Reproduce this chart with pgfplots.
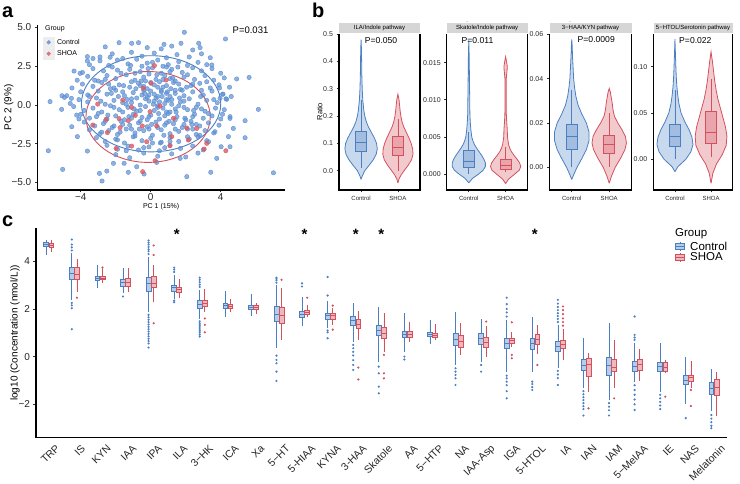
\documentclass[border=0pt]{standalone}
\usepackage{fontspec}
\setmainfont{Liberation Sans}
\usepackage{pgfplots}
\usepackage{pgfplotstable}
\pgfplotsset{compat=1.18}
\usepgfplotslibrary{statistics}
\definecolor{cb}{HTML}{4A7FC2}
\definecolor{cr}{HTML}{D4505C}
\definecolor{pb}{HTML}{5E90D2}
\definecolor{pr}{HTML}{DA5B66}
\newcommand{\fs}[1]{\fontsize{#1}{#1}\selectfont}

% violin outlines: offset from the group centre, value
\pgfplotstableread{
d y
0 -0.032
0.03 -0.02
0.10 0
0.22 0.02
0.33 0.04
0.41 0.06
0.44 0.08
0.42 0.10
0.36 0.12
0.28 0.14
0.20 0.16
0.14 0.18
0.10 0.20
0.075 0.22
0.06 0.24
0.045 0.26
0.03 0.30
0.02 0.35
0.015 0.40
0.008 0.45
0 0.48
-0.008 0.45
-0.015 0.40
-0.02 0.35
-0.03 0.30
-0.045 0.26
-0.06 0.24
-0.075 0.22
-0.10 0.20
-0.14 0.18
-0.20 0.16
-0.28 0.14
-0.36 0.12
-0.42 0.10
-0.44 0.08
-0.41 0.06
-0.33 0.04
-0.22 0.02
-0.10 0
-0.03 -0.02
0 -0.032
}\vAc
\pgfplotstableread{
d y
0 -0.045
0.03 -0.03
0.09 -0.015
0.17 0
0.28 0.02
0.37 0.04
0.41 0.06
0.40 0.08
0.36 0.10
0.30 0.12
0.23 0.14
0.16 0.16
0.11 0.18
0.08 0.20
0.06 0.22
0.045 0.24
0.03 0.26
0 0.28
-0.03 0.26
-0.045 0.24
-0.06 0.22
-0.08 0.20
-0.11 0.18
-0.16 0.16
-0.23 0.14
-0.30 0.12
-0.36 0.10
-0.40 0.08
-0.41 0.06
-0.37 0.04
-0.28 0.02
-0.17 0
-0.09 -0.015
-0.03 -0.03
0 -0.045
}\vAs
\pgfplotstableread{
d y
0 -0.0012
0.10 -0.0006
0.27 0
0.39 0.0005
0.45 0.001
0.45 0.0015
0.41 0.002
0.35 0.0025
0.28 0.003
0.21 0.0035
0.15 0.004
0.11 0.0045
0.08 0.005
0.055 0.006
0.04 0.007
0.03 0.008
0.025 0.010
0.02 0.012
0.015 0.014
0.01 0.016
0 0.018
-0.01 0.016
-0.015 0.014
-0.02 0.012
-0.025 0.010
-0.03 0.008
-0.04 0.007
-0.055 0.006
-0.08 0.005
-0.11 0.0045
-0.15 0.004
-0.21 0.0035
-0.28 0.003
-0.35 0.0025
-0.41 0.002
-0.45 0.0015
-0.45 0.001
-0.39 0.0005
-0.27 0
-0.10 -0.0006
0 -0.0012
}\vBc
\pgfplotstableread{
d y
0 -0.0013
0.08 -0.0007
0.25 0
0.37 0.0005
0.41 0.001
0.38 0.0015
0.31 0.002
0.23 0.0025
0.16 0.003
0.11 0.0035
0.08 0.004
0.05 0.005
0.045 0.006
0.03 0.007
0.02 0.008
0.015 0.010
0.015 0.012
0.02 0.013
0.04 0.014
0.045 0.0145
0.03 0.015
0 0.0158
-0.03 0.015
-0.045 0.0145
-0.04 0.014
-0.02 0.013
-0.015 0.012
-0.015 0.010
-0.02 0.008
-0.03 0.007
-0.045 0.006
-0.05 0.005
-0.08 0.004
-0.11 0.0035
-0.16 0.003
-0.23 0.0025
-0.31 0.002
-0.38 0.0015
-0.41 0.001
-0.37 0.0005
-0.25 0
-0.08 -0.0007
0 -0.0013
}\vBs
\pgfplotstableread{
d y
0 -0.0055
0.06 -0.003
0.14 0
0.27 0.004
0.39 0.008
0.46 0.012
0.46 0.016
0.39 0.020
0.27 0.024
0.17 0.028
0.11 0.032
0.075 0.036
0.05 0.040
0.035 0.045
0.02 0.050
0.01 0.055
0 0.0577
-0.01 0.055
-0.02 0.050
-0.035 0.045
-0.05 0.040
-0.075 0.036
-0.11 0.032
-0.17 0.028
-0.27 0.024
-0.39 0.020
-0.46 0.016
-0.46 0.012
-0.39 0.008
-0.27 0.004
-0.14 0
-0.06 -0.003
0 -0.0055
}\vCc
\pgfplotstableread{
d y
0 -0.0072
0.06 -0.004
0.16 0
0.30 0.004
0.42 0.008
0.46 0.011
0.43 0.014
0.34 0.017
0.23 0.020
0.14 0.023
0.10 0.026
0.08 0.029
0.05 0.032
0.03 0.034
0 0.0356
-0.03 0.034
-0.05 0.032
-0.08 0.029
-0.10 0.026
-0.14 0.023
-0.23 0.020
-0.34 0.017
-0.43 0.014
-0.46 0.011
-0.42 0.008
-0.30 0.004
-0.16 0
-0.06 -0.004
0 -0.0072
}\vCs
\pgfplotstableread{
d y
0 -0.0134
0.08 -0.008
0.19 -0.004
0.30 0
0.44 0.008
0.50 0.016
0.47 0.024
0.39 0.032
0.28 0.040
0.17 0.050
0.11 0.060
0.075 0.070
0.05 0.080
0.035 0.090
0.025 0.100
0.012 0.115
0 0.1296
-0.012 0.115
-0.025 0.100
-0.035 0.090
-0.05 0.080
-0.075 0.070
-0.11 0.060
-0.17 0.050
-0.28 0.040
-0.39 0.032
-0.47 0.024
-0.50 0.016
-0.44 0.008
-0.30 0
-0.19 -0.004
-0.08 -0.008
0 -0.0134
}\vDc
\pgfplotstableread{
d y
0 -0.026
0.05 -0.015
0.15 -0.005
0.31 0.005
0.42 0.015
0.44 0.025
0.40 0.035
0.33 0.045
0.26 0.055
0.19 0.065
0.14 0.075
0.10 0.085
0.07 0.095
0.04 0.105
0 0.116
-0.04 0.105
-0.07 0.095
-0.10 0.085
-0.14 0.075
-0.19 0.065
-0.26 0.055
-0.33 0.045
-0.40 0.035
-0.44 0.025
-0.42 0.015
-0.31 0.005
-0.15 -0.005
-0.05 -0.015
0 -0.026
}\vDs

\newcommand{\violin}[3]{%
  \addplot[fill=#3, fill opacity=0.3, draw=#3, line width=0.8pt, forget plot] table[x expr=#1+\thisrow{d}, y=y] {#2};}
\newcommand{\vbx}[7]{\addplot[draw=#2, fill=#2, fill opacity=0.3, line width=0.8pt, forget plot,
  boxplot/draw direction=y,
  boxplot prepared={draw position=#1, lower whisker=#3, lower quartile=#4, median=#5,
  upper quartile=#6, upper whisker=#7, box extend=0.3, whisker extend=0}] coordinates {};}
\newcommand{\bo}[7]{\addplot[#1, boxplot prepared={draw position=#2, lower whisker=#3,
  lower quartile=#4, median=#5, upper quartile=#6, upper whisker=#7}] coordinates {};}
\newcommand{\bx}[8]{\addplot[#1, boxplot prepared={draw position=#2, lower whisker=#3,
  lower quartile=#4, median=#5, upper quartile=#6, upper whisker=#7}] table[row sep=\\, y index=0] {v\\ #8};}

\tikzset{strip/.style={fill=black!16, draw=white, line width=0.6pt, anchor=south, minimum height=11.3pt,
    inner sep=0pt, font=\fs{6}, yshift=-0.75pt}}
\pgfplotsset{
  gg/.style={scale only axis, tick align=outside, major tick length=2.5pt,
    tick style={black!80, line width=0.7pt}, axis line style={line width=1.5pt},
    xtick pos=left, ytick pos=left, ticklabel style={text=black!85}},
  vio/.style={gg, width=81pt, height=156.7pt, xmin=0.4, xmax=2.6, xtick={1,2},
    xticklabels={Control,SHOA}, xticklabel style={font=\fs{6}},
    yticklabel style={font=\fs{7}}},
  cbx/.style={forget plot, boxplot/draw direction=y, draw=cb, fill=cb!40, line width=0.7pt, mark=*, mark size=0.7pt,
    mark options={draw=none, fill=cb!80}, boxplot/box extend=0.19, boxplot/whisker extend=0},
  crx/.style={forget plot, boxplot/draw direction=y, draw=cr, fill=cr!40, line width=0.7pt, mark=*, mark size=0.7pt,
    mark options={draw=none, fill=cr!80}, boxplot/box extend=0.19, boxplot/whisker extend=0},
  legdotb/.style={legend image code/.code={\fill[black!7] (0pt,-5.2pt) rectangle (10.6pt,5.2pt);
    \fill[pb, opacity=0.8] (5.3pt,0pt) circle (1.9pt); \path (13pt,0pt);}},
  legdotr/.style={legend image code/.code={\fill[black!7] (0pt,-5.2pt) rectangle (10.6pt,5.2pt);
    \fill[pr, opacity=0.8] (5.3pt,0pt) circle (1.9pt); \path (13pt,0pt);}},
  legboxb/.style={legend image code/.code={\draw[cb, fill=cb!40, line width=0.8pt] (0pt,-3pt) rectangle (9pt,3pt);
    \draw[cb, line width=0.8pt] (0pt,0pt)--(9pt,0pt) (4.5pt,3pt)--(4.5pt,4.8pt) (4.5pt,-3pt)--(4.5pt,-4.8pt); \path (14pt,0pt);}},
  legboxr/.style={legend image code/.code={\draw[cr, fill=cr!40, line width=0.8pt] (0pt,-3pt) rectangle (9pt,3pt);
    \draw[cr, line width=0.8pt] (0pt,0pt)--(9pt,0pt) (4.5pt,3pt)--(4.5pt,4.8pt) (4.5pt,-3pt)--(4.5pt,-4.8pt); \path (14pt,0pt);}},
}

\begin{document}
\begin{tikzpicture}
\path[use as bounding box] (0,0) rectangle (740pt,-484pt);

\node[anchor=base west, inner sep=0, font=\bfseries\fs{20}] at (2pt,-18pt) {a};
\node[anchor=base west, inner sep=0, font=\bfseries\fs{20}] at (312pt,-18pt) {b};
\node[anchor=base west, inner sep=0, font=\bfseries\fs{20}] at (2pt,-226.5pt) {c};

% ---------------- panel a
\begin{axis}[gg, at={(37.3pt,-25pt)}, anchor=north west, width=247.7pt, height=165pt,
  xmin=-6.48, xmax=7.67, ymin=-5.48, ymax=5.16,
  axis x line*=bottom, axis y line*=left,
  xtick={-4,0,4}, xticklabels={−4,0,4},
  ytick={-5,-2.5,0,2.5,5}, yticklabels={−5.0,−2.5,0.0,2.5,5.0},
  ticklabel style={font=\fs{10}}, xticklabel style={yshift=2.5pt},
  xlabel={PC 1 (15\%)}, xlabel style={font=\fs{7}, at={(axis description cs:0.5,-0.102)}, anchor=center},
  ylabel={PC 2 (9\%)}, ylabel style={font=\fs{10}, at={(axis description cs:-0.1155,0.5)}, anchor=center},
  legend style={at={(axis description cs:0.023,0.929)}, anchor=north west, draw=none, fill=none,
    font=\fs{7}, inner sep=0pt, row sep=0.6pt, cells={anchor=west}, nodes={inner sep=0.6pt}}]
\addlegendimage{legdotb}
\addlegendentry{Control}
\addlegendimage{legdotr}
\addlegendentry{SHOA}
\addplot[pb, only marks, mark=*, mark size=2.2pt, mark options={draw=none, fill=pb, fill opacity=0.7}, forget plot] coordinates {
(1.92,4.69) (4.27,4.26) (-1.81,4.02) (-1.09,3.98) (-0.70,4.02) (0.76,3.91) (1.73,3.98) (2.74,3.98)
(-3.62,3.12) (-3.62,2.84) (-4.38,2.19) (-4.04,2.04) (4.91,1.68) (5.62,1.78) (-5.75,0.22) (-5.07,0.60)
(-4.93,0.49) (-5.09,-0.28) (-4.53,0.43) (6.15,-0.28) (5.39,-1.01) (5.39,-2.11) (4.72,-1.51) (-5.85,-2.95)
(-5.03,-4.15) (-3.62,-2.97) (-2.93,-4.41) (-2.78,-4.90) (-2.51,-4.26) (-1.28,-4.34) (-0.38,-4.45) (2.06,-4.62)
(3.43,-4.34) (7.01,-4.37) (4.53,-2.69) (4.02,-2.69) (3.30,-2.37) (4.44,-2.04) (-2.13,-3.76) (-1.52,-3.76)
(2.82,3.70) (2.40,3.55) (-2.32,3.08) (3.96,0.43) (4.34,0.37) (4.53,-0.75) (-4.23,-0.65) (-4.51,-1.40)
(-4.19,-2.04) (3.77,-3.44) (1.68,-3.44) (0.34,-3.70) (-0.80,-3.98) (3.49,2.58) (3.93,1.10) (4.13,0.70)
(4.53,-0.86) (3.67,-1.72) (-0.20,3.70) (0.60,3.62) (-2.60,3.75) (1.20,3.80)
(-2.9,3.1) (-2.2,3.3) (-1.6,3.0) (-1.1,3.4) (-0.5,3.15) (0.2,3.35) (0.9,3.05) (1.5,3.25) (2.2,3.1) (2.9,3.3) (-3.3,3.0) (3.4,3.05)
(-3.5,2.6) (-2.9,2.85) (-2.4,2.55) (-1.9,2.9) (-1.3,2.65) (-0.8,2.95) (-0.2,2.7) (0.4,2.9) (1.0,2.6) (1.6,2.8) (2.1,2.55) (2.7,2.75) (3.2,2.6) (-0.5,2.5) (0.7,2.5)
(-3.9,2.1) (-3.3,2.35) (-2.7,2.2) (-2.2,2.45) (-1.7,2.05) (-1.2,2.3) (-0.6,2.15) (0.1,2.4) (0.6,2.05) (1.2,2.3) (1.8,2.1) (2.4,2.4) (2.9,2.2) (3.5,2.35) (4.0,2.05) (-0.1,2.0) (0.9,2.45)
(-4.2,1.6) (-3.6,1.85) (-3.0,1.55) (-2.5,1.9) (-2.0,1.7) (-1.4,1.95) (-0.9,1.6) (-0.4,1.8) (0.3,1.65) (0.8,1.9) (1.4,1.55) (1.9,1.8) (2.5,1.65) (3.1,1.9) (3.6,1.6) (4.2,1.75) (-1.1,1.5) (0.5,1.5) (1.1,1.7)
(-4.5,1.1) (-3.9,1.35) (-3.3,1.2) (-2.8,1.45) (-2.3,1.05) (-1.8,1.3) (-1.2,1.15) (-0.7,1.4) (-0.2,1.05) (0.2,1.3) (0.7,1.15) (1.3,1.45) (1.7,1.0) (2.3,1.25) (2.8,1.4) (3.4,1.1) (3.9,1.3) (4.5,1.15) (0.0,1.45) (0.9,1.25) (-0.4,1.2)
(-4.8,0.6) (-4.0,0.85) (-3.5,0.55) (-3.0,0.9) (-2.5,0.7) (-2.0,0.95) (-1.5,0.6) (-1.0,0.8) (-0.5,0.65) (0.0,0.9) (0.4,0.55) (0.9,0.75) (1.4,0.95) (1.9,0.6) (2.4,0.85) (3.0,0.65) (3.5,0.9) (4.1,0.7) (4.6,0.55) (0.2,0.7) (0.6,0.95) (-0.2,0.5) (1.1,0.55)
(-4.6,0.1) (-4.1,0.35) (-3.6,0.2) (-3.1,0.45) (-2.6,0.05) (-2.1,0.3) (-1.6,0.15) (-1.1,0.4) (-0.6,0.0) (-0.1,0.25) (0.3,0.45) (0.8,0.1) (1.2,0.35) (1.7,0.2) (2.2,0.4) (2.7,0.05) (3.2,0.3) (3.8,0.15) (4.3,0.4) (0.5,0.2) (1.0,0.3) (-0.3,0.4)
(-4.4,-0.1) (-3.8,-0.35) (-3.3,-0.2) (-2.8,-0.45) (-2.3,-0.05) (-1.8,-0.3) (-1.3,-0.15) (-0.8,-0.4) (-0.3,-0.1) (0.2,-0.35) (0.7,-0.2) (1.1,-0.45) (1.6,-0.05) (2.1,-0.3) (2.6,-0.15) (3.1,-0.4) (3.7,-0.2) (4.2,-0.3) (0.4,-0.05) (1.4,-0.25)
(-4.0,-0.6) (-3.5,-0.85) (-3.0,-0.55) (-2.5,-0.9) (-2.0,-0.7) (-1.5,-0.95) (-1.0,-0.6) (-0.5,-0.8) (0.0,-0.65) (0.5,-0.9) (1.0,-0.55) (1.5,-0.75) (2.0,-0.95) (2.5,-0.6) (3.0,-0.85) (3.5,-0.7) (4.0,-0.9) (0.8,-0.7) (-0.2,-0.95)
(-3.8,-1.1) (-3.2,-1.35) (-2.7,-1.2) (-2.2,-1.45) (-1.7,-1.05) (-1.2,-1.3) (-0.7,-1.15) (-0.2,-1.4) (0.3,-1.1) (0.8,-1.3) (1.3,-1.2) (1.8,-1.45) (2.3,-1.05) (2.8,-1.35) (3.3,-1.15) (3.9,-1.3)
(-3.5,-1.6) (-2.9,-1.85) (-2.4,-1.65) (-1.9,-1.9) (-1.4,-1.55) (-0.9,-1.8) (-0.4,-1.65) (0.1,-1.95) (0.6,-1.6) (1.1,-1.85) (1.6,-1.7) (2.1,-1.55) (2.6,-1.9) (3.1,-1.65) (3.6,-1.8)
(-3.1,-2.1) (-2.6,-2.35) (-2.0,-2.2) (-1.5,-2.45) (-1.0,-2.05) (-0.5,-2.3) (0.0,-2.15) (0.6,-2.4) (1.1,-2.1) (1.6,-2.35) (2.2,-2.2) (2.7,-2.05) (3.2,-2.3)
(-2.5,-2.6) (-1.9,-2.85) (-1.3,-2.65) (-0.7,-2.9) (-0.1,-2.7) (0.5,-2.95) (1.1,-2.6) (1.7,-2.8) (2.4,-2.65) (3.0,-2.9)
(-2.0,-3.2) (-1.2,-3.4) (-0.4,-3.1) (0.4,-3.3) (1.2,-3.15) (2.0,-3.35) (2.7,-3.1)
(-1.35,0.35) (-0.85,1.05) (-0.35,0.75) (0.15,0.05) (0.65,0.55) (1.15,1.05) (1.65,0.45) (-1.85,0.55)
(-0.95,-0.25) (0.45,-0.55) (0.95,0.85) (1.45,-0.45) (-0.55,1.55) (0.35,1.95) (1.25,1.75) (-1.55,1.25)
(-2.25,0.75) (2.05,1.15) (2.45,-0.35) (-2.45,-0.65) (-1.25,-0.75) (0.05,-1.25) (1.05,-1.05) (1.95,-0.85)
(-0.65,-1.55) (0.75,-1.95) (-1.75,-1.75) (2.35,-1.25) (-2.85,0.25) (2.85,0.55) (-0.15,2.35) (0.55,-2.45)
(-1.15,2.55) (1.55,2.45)
(-2.1,1.1) (-1.6,0.85) (-1.1,0.15) (-0.6,1.25) (-0.1,0.65) (0.4,1.15) (0.9,0.35) (1.4,0.75) (1.9,0.25)
(2.4,1.35) (2.9,0.95) (-2.6,1.65) (-2.1,-0.15) (-1.6,-0.45) (-1.1,-0.85) (-0.6,-0.35) (-0.1,-0.75) (0.4,-0.15)
(0.9,-0.45) (1.4,-0.95) (1.9,-0.15) (2.4,-0.75) (2.9,-0.25) (-2.6,-1.05) (-2.1,-1.35) (-1.6,-1.25) (-1.1,-1.55)
(-0.6,-1.05) (-0.1,-1.55) (0.4,-1.45) (0.9,-1.15) (1.4,-1.55) (1.9,-1.25) (2.4,-1.55) (-3.1,-0.75) (-3.6,0.65)
(3.3,-0.55) (3.6,0.35) (-1.9,2.25) (-0.9,2.05) (0.1,2.75) (1.1,2.15) (2.1,1.95) (-2.4,1.35) (-0.3,1.55)
(0.7,1.65) (1.6,1.35) (-1.4,0.05) (0.2,0.25) (1.2,0.05) (-0.8,0.45) (0.6,0.85) (-0.4,0.95) (1.8,0.95)
(-1.9,-2.25) (-0.9,-2.0) (0.1,-2.45) (1.1,-2.35) (2.1,-2.05) (-0.4,-2.75) (0.8,-2.75) (-1.4,-2.95) (2.6,-1.25)
(-3.2,1.6) (3.2,1.5) (-4.1,-0.9) (4.1,-0.6) (-2.8,-1.75) (2.8,-1.95)
};
\addplot[pr, only marks, mark=*, mark size=2.2pt, mark options={draw=none, fill=pr, fill opacity=0.8}, forget plot] coordinates {
(0.21,2.54) (0.88,1.61) (0.02,1.40) (-0.42,1.08) (-1.60,0.32) (-3.03,0.06) (-1.10,-0.15) (-0.04,-0.43)
(-0.88,-0.67) (-1.81,-0.88) (-2.55,-0.92) (-3.31,-1.29) (-1.28,-1.01) (-0.48,-1.35) (0.34,-1.35) (1.30,-0.86)
(2.06,-1.48) (2.63,-1.51) (-2.48,-1.78) (-1.75,-1.46) (1.20,-2.04) (1.10,-2.62) (-1.09,-2.65) (-0.23,-2.37)
(-1.98,-2.80) (3.05,-2.84) (3.20,-2.47) (4.29,-2.95) (0.25,-3.59) (-0.46,-4.30) (2.15,-2.26) (0.53,-0.06)
};
\draw[cb, line width=0.9pt] (axis cs:0.02,0.08) ellipse [x radius=3.98, y radius=3.1];
\draw[cr, line width=0.9pt] (axis cs:-0.15,-0.77) ellipse [x radius=3.55, y radius=2.93];
\node[font=\fs{9.5}] at (axis cs:5.70,4.84) {P=0.031};
\end{axis}
\node[anchor=base west, font=\fs{7}, inner sep=0] at (45pt,-31pt) {Group};

% ---------------- panel b
\begin{axis}[vio, name=b1, at={(339pt,-33.3pt)}, anchor=north west,
  ymin=-0.0707, ymax=0.503, ytick={0,0.1,0.2,0.3,0.4,0.5}, yticklabels={0.0,0.1,0.2,0.3,0.4,0.5},
  ylabel={Ratio}, ylabel style={font=\fs{7.5}, at={(axis description cs:-0.238,0.5)}, anchor=center}]
\violin{1}{\vAc}{cb}
\violin{2}{\vAs}{cr}
\vbx{1}{cb}{0.01}{0.070}{0.103}{0.145}{0.257}
\vbx{2}{cr}{0.0}{0.057}{0.086}{0.127}{0.19}
\node[font=\fs{8.6}] at (axis cs:1.544,0.478) {P=0.050};
\end{axis}
\begin{axis}[vio, name=b2, at={(446.7pt,-33.3pt)}, anchor=north west,
  ymin=-0.00216, ymax=0.01896, ytick={0,0.005,0.01,0.015}, yticklabels={0.000,0.005,0.010,0.015}]
\violin{1}{\vBc}{cb}
\violin{2}{\vBs}{cr}
\vbx{1}{cb}{0.0}{0.0009}{0.00175}{0.00314}{0.0057}
\vbx{2}{cr}{0.0002}{0.00063}{0.00121}{0.00198}{0.0037}
\node[font=\fs{8.6}] at (axis cs:1.236,0.01805) {P=0.011};
\end{axis}
\begin{axis}[vio, name=b3, at={(549.3pt,-33.3pt)}, anchor=north west, width=82.4pt,
  ymin=-0.01024, ymax=0.0605, ytick={0,0.02,0.04,0.06}, yticklabels={0.00,0.02,0.04,0.06}]
\violin{1}{\vCc}{cb}
\violin{2}{\vCs}{cr}
\vbx{1}{cb}{0.0}{0.0083}{0.0138}{0.0194}{0.035}
\vbx{2}{cr}{0.0}{0.0063}{0.0105}{0.0144}{0.0244}
\node[font=\fs{8.6}] at (axis cs:1.654,0.0575) {P=0.0009};
\end{axis}
\begin{axis}[vio, name=b4, at={(653.3pt,-33.3pt)}, anchor=north west, width=79.4pt,
  ymin=-0.0331, ymax=0.136, ytick={0,0.05,0.1}, yticklabels={0.00,0.05,0.10}]
\violin{1}{\vDc}{cb}
\violin{2}{\vDs}{cr}
\vbx{1}{cb}{0.0}{0.0136}{0.0244}{0.0381}{0.0748}
\vbx{2}{cr}{0.003}{0.0173}{0.0288}{0.0514}{0.087}
\node[font=\fs{8.6}] at (axis cs:1.566,0.1287) {P=0.022};
\end{axis}
\node[strip, minimum width=82pt] at (b1.north) {ILA/Indole pathway};
\node[strip, minimum width=82pt] at (b2.north) {Skatole/Indole pathway};
\node[strip, minimum width=83.4pt] at (b3.north) {3−HAA/KYN pathway};
\node[strip, minimum width=80.4pt] at (b4.north) {5−HTOL/Serotonin pathway};

% ---------------- panel c
\begin{axis}[gg, at={(36pt,-228.3pt)}, anchor=north west, width=690.7pt, height=209.4pt,
  xmin=0.5, xmax=27.5, ymin=-3.40, ymax=5.38,
  axis x line*=bottom, axis y line*=left, clip=false,
  xtick={1,...,27}, major x tick style={draw=none},
  xticklabels={TRP,IS,KYN,IAA,IPA,ILA,3−HK,ICA,Xa,5−HT,5-HIAA,KYNA,3-HAA,Skatole,AA,5−HTP,NA,IAA-Asp,IGA,5-HTOL,IA,IAN,IAM,5−MeIAA,IE,NAS,Melatonin},
  xticklabel style={font=\fs{10.5}, rotate=45, anchor=north east, inner sep=1pt, xshift=3pt, yshift=-6pt},
  ytick={-2,0,2,4}, yticklabels={−2,0,2,4}, yticklabel style={font=\fs{10}},
  ylabel={log10 (Concentration (nmol/L))},
  ylabel style={font=\fs{10}, at={(axis description cs:-0.0304,0.5)}, anchor=center},
  legend style={at={(axis description cs:0.925,0.939)}, anchor=north west, draw=none, fill=none,
    font=\fs{11.5}, inner sep=0pt, row sep=0pt, cells={anchor=west}, nodes={inner sep=0.5pt}}]
\addlegendimage{legboxb}
\addlegendentry{Control}
\addlegendimage{legboxr}
\addlegendentry{SHOA}
\bo{cbx}{0.9}{4.26}{4.61}{4.70}{4.77}{4.91}
\bo{crx}{1.1}{4.40}{4.57}{4.66}{4.74}{4.87}
\bx{cbx}{1.9}{2.38}{3.26}{3.50}{3.73}{4.33}{4.45\\ 4.58\\ 4.70\\ 4.91\\ 2.25\\ 2.15\\ 2.03\\ 1.15\\}
\bx{crx}{2.1}{2.73}{3.26}{3.47}{3.73}{4.10}{2.47\\}
\bo{cbx}{2.9}{2.87}{3.20}{3.29}{3.38}{3.84}
\bx{crx}{3.1}{3.08}{3.22}{3.30}{3.38}{3.66}{3.73\\}
\bx{cbx}{3.9}{2.66}{2.94}{3.10}{3.26}{3.73}{2.52\\}
\bo{crx}{4.1}{2.73}{2.95}{3.12}{3.29}{3.73}
\bx{cbx}{4.9}{1.86}{2.73}{3.08}{3.31}{4.18}{4.30\\ 4.42\\ 4.50\\ 4.60\\ 4.70\\ 4.78\\ 4.87\\ 1.75\\ 1.65\\ 1.55\\ 1.45\\ 1.35\\ 1.25\\ 1.15\\ 1.05\\ 0.95\\ 0.85\\ 0.75\\ 0.65\\ 0.55\\ 0.38\\}
\bx{crx}{5.1}{2.28}{2.89}{3.06}{3.38}{3.84}{4.66\\ 4.26\\ 1.40\\}
\bx{cbx}{5.9}{2.42}{2.75}{2.91}{2.99}{3.43}{3.55\\ 3.65\\ 3.73\\ 2.35\\ 2.28\\}
\bo{crx}{6.1}{2.47}{2.68}{2.80}{2.89}{3.24}
\bx{cbx}{6.9}{1.56}{2.03}{2.20}{2.34}{2.81}{2.92\\ 3.02\\ 3.12\\ 3.22\\ 3.31\\ 1.48\\ 1.40\\ 1.32\\ 1.24\\ 1.16\\ 1.08\\ 1.00\\ 0.92\\ 0.84\\}
\bx{crx}{7.1}{1.89}{2.10}{2.24}{2.36}{2.82}{1.60\\ 1.33\\ 1.02\\}
\bo{cbx}{7.9}{1.68}{2.03}{2.14}{2.24}{2.75}
\bo{crx}{8.1}{1.86}{2.03}{2.12}{2.21}{2.42}
\bo{cbx}{8.9}{1.71}{1.97}{2.07}{2.15}{2.62}
\bo{crx}{9.1}{1.77}{2.00}{2.08}{2.17}{2.25}
\bx{cbx}{9.9}{0.38}{1.47}{1.79}{2.10}{3.00}{3.10\\ 3.20\\ 3.26\\ 3.31\\ 0.04\\ -0.14\\ -0.28\\ -0.63\\ -1.02\\}
\bx{crx}{10.1}{0.70}{1.39}{1.75}{2.06}{2.89}{3.22\\}
\bx{cbx}{10.9}{1.30}{1.66}{1.79}{1.90}{2.52}{2.94\\ 3.07\\}
\bx{crx}{11.1}{1.64}{1.78}{1.86}{1.96}{2.17}{2.47\\}
\bx{cbx}{11.9}{1.19}{1.58}{1.71}{1.82}{2.34}{3.34\\ 2.56\\ 1.10\\ 1.02\\ 0.77\\}
\bx{crx}{12.1}{1.33}{1.58}{1.71}{1.82}{2.03}{2.14\\ 1.13\\}
\bx{cbx}{12.9}{0.63}{1.29}{1.50}{1.69}{2.24}{0.49\\ 0.35\\ 0.20\\ 0.05\\ -0.15\\ -0.35\\ -0.56\\}
\bx{crx}{13.1}{0.70}{1.19}{1.37}{1.57}{1.92}{-0.46\\ -0.96\\}
\bx{cbx}{13.9}{-0.21}{0.90}{1.11}{1.32}{2.06}{-0.42\\ -0.70\\ -1.26\\ -1.54\\}
\bx{crx}{14.1}{0.21}{0.77}{0.99}{1.22}{1.82}{0.07\\ -0.70\\ -0.91\\}
\bx{cbx}{14.9}{0.21}{0.81}{0.94}{1.05}{1.82}{0.0\\ -0.12\\}
\bo{crx}{15.1}{0.63}{0.81}{0.95}{1.05}{1.44}
\bo{cbx}{15.9}{0.52}{0.83}{0.94}{1.02}{1.54}
\bo{crx}{16.1}{0.70}{0.81}{0.91}{0.99}{1.36}
\bx{cbx}{16.9}{-0.35}{0.49}{0.73}{0.98}{1.86}{-0.49\\ -0.63\\ -0.77\\ -0.91\\ -1.19\\}
\bo{crx}{17.1}{0.07}{0.38}{0.63}{0.91}{1.40}
\bx{cbx}{17.9}{-0.21}{0.53}{0.77}{0.98}{1.58}{-0.35\\ -0.63\\}
\bx{crx}{18.1}{0.00}{0.39}{0.60}{0.81}{1.30}{1.47\\}
\bx{cbx}{18.9}{-0.63}{0.35}{0.56}{0.77}{1.54}{1.68\\ 1.85\\ 2.00\\ 2.20\\ 2.47\\ -0.80\\ -0.91\\ -1.05\\ -1.20\\ -1.45\\ -1.75\\}
\bx{crx}{19.1}{0.42}{0.56}{0.67}{0.77}{1.02}{1.44\\ 0.07\\ -0.07\\}
\bx{cbx}{19.9}{-0.63}{0.31}{0.56}{0.77}{1.68}{-1.05\\ -1.15\\ -1.28\\ -1.40\\}
\bx{crx}{20.1}{0.10}{0.52}{0.73}{0.94}{1.33}{-0.35\\}
\bx{cbx}{20.9}{-0.47}{0.21}{0.45}{0.66}{1.34}{1.45\\ 1.58\\ 1.70\\ 1.82\\ 1.95\\ 2.08\\ 2.22\\ 2.38\\ -0.60\\ -0.75\\ -0.90\\ -1.19\\}
\bx{crx}{21.1}{-0.13}{0.35}{0.53}{0.67}{1.15}{1.30\\ 1.45\\ 1.60\\ 1.78\\ 1.95\\ 2.10\\}
\bx{cbx}{21.9}{-1.33}{-0.59}{-0.35}{-0.11}{0.77}{-1.45\\ -1.58\\ -1.70\\ -1.82\\ -1.95\\ -2.08\\ -2.20\\ -2.47\\}
\bx{crx}{22.1}{-1.47}{-0.84}{-0.32}{-0.07}{0.14}{-2.17\\}
\bx{cbx}{22.9}{-1.82}{-0.77}{-0.35}{-0.03}{1.40}{-1.95\\ -2.10\\ -2.25\\ -2.47\\}
\bx{crx}{23.1}{-1.33}{-0.63}{-0.46}{-0.12}{0.70}{-1.75\\}
\bx{cbx}{23.9}{-1.05}{-0.60}{-0.42}{-0.21}{0.55}{0.70\\ 0.80\\ 0.91\\ 1.68\\ -1.20\\ -1.40\\ -1.60\\ -1.80\\ -2.00\\ -2.24\\}
\bo{crx}{24.1}{-1.02}{-0.56}{-0.32}{-0.10}{0.32}
\bx{cbx}{24.9}{-1.47}{-0.63}{-0.42}{-0.24}{0.56}{-1.60\\ -1.75\\ -1.90\\ -2.05\\ -2.20\\}
\bx{crx}{25.1}{-0.70}{-0.63}{-0.46}{-0.22}{-0.14}{-1.68\\}
\bx{cbx}{25.9}{-2.00}{-1.16}{-0.98}{-0.77}{0.00}{-2.58\\}
\bx{crx}{26.1}{-1.33}{-1.02}{-0.88}{-0.77}{-0.18}{-1.40\\ -2.07\\}
\bx{cbx}{26.9}{-2.30}{-1.58}{-1.33}{-1.09}{-0.52}{-2.45\\ -2.60\\ -2.75\\ -2.90\\ -3.00\\}
\bo{crx}{27.1}{-2.47}{-1.61}{-1.30}{-0.94}{-0.63}
\node[anchor=base, font=\bfseries\fs{15}] at (axis cs:6,4.9) {*};
\node[anchor=base, font=\bfseries\fs{15}] at (axis cs:11,4.9) {*};
\node[anchor=base, font=\bfseries\fs{15}] at (axis cs:13,4.9) {*};
\node[anchor=base, font=\bfseries\fs{15}] at (axis cs:14,4.9) {*};
\node[anchor=base, font=\bfseries\fs{15}] at (axis cs:20,4.9) {*};
\end{axis}
\node[anchor=base west, font=\fs{11.5}, inner sep=0] at (675pt,-236.7pt) {Group};
\end{tikzpicture}
\end{document}
